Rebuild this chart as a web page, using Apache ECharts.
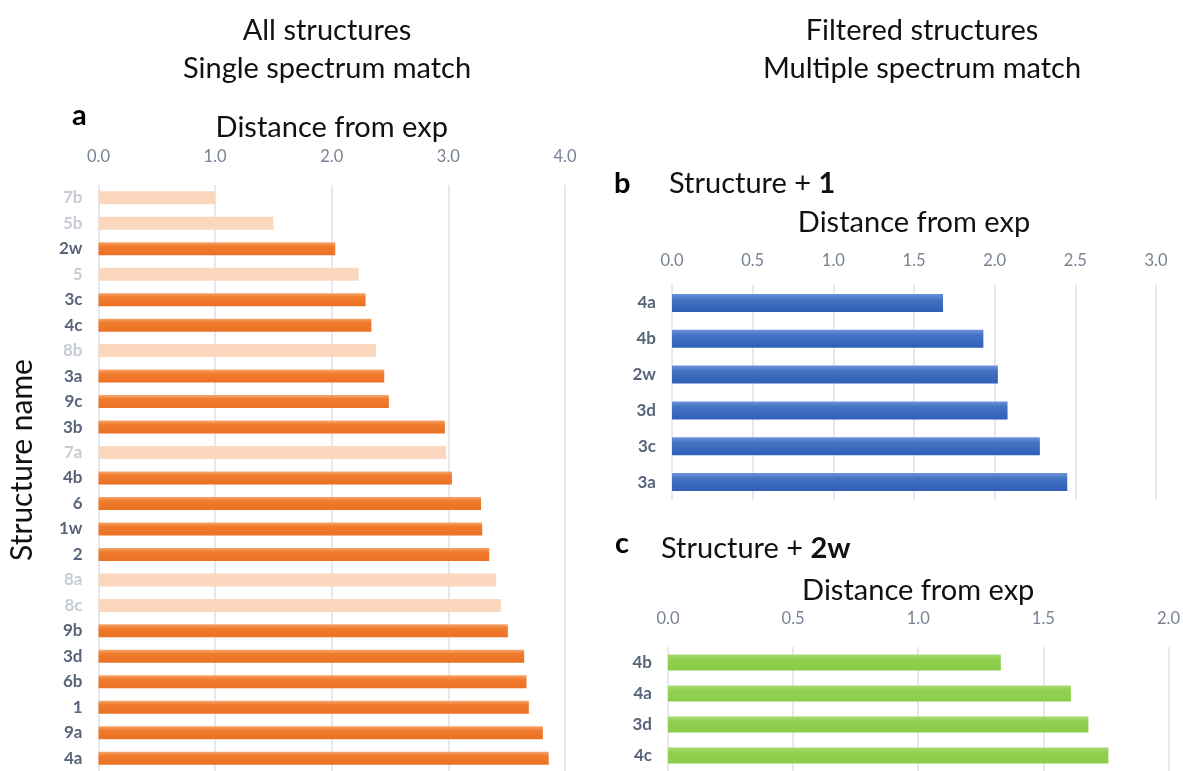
<!DOCTYPE html>
<html>
<head>
<meta charset="utf-8">
<script src="https://cdn.jsdelivr.net/npm/echarts@6/dist/echarts.min.js"></script>
<style>
  html, body { margin: 0; padding: 0; background: #ffffff; }
  #chart { width: 1183px; height: 771px; }
</style>
</head>
<body>
<div id="chart"></div>
<script>
// Panel a: all structures, single spectrum match
const structuresA = ['7b','5b','2w','5','3c','4c','8b','3a','9c','3b','7a','4b','6','1w','2','8a','8c','9b','3d','6b','1','9a','4a'];
const distanceA   = [1.00, 1.50, 2.03, 2.23, 2.29, 2.34, 2.38, 2.45, 2.49, 2.97, 2.98, 3.03, 3.28, 3.29, 3.35, 3.41, 3.45, 3.51, 3.65, 3.67, 3.69, 3.81, 3.86];
// structures shown faded (filtered out)
const fadedA = ['7b','5b','5','8b','7a','8a','8c'];
const ticksA = [0, 1, 2, 3, 4];

// Panel b: structure + 1
const structuresB = ['4a','4b','2w','3d','3c','3a'];
const distanceB   = [1.68, 1.93, 2.02, 2.08, 2.28, 2.45];
const ticksB = [0, 0.5, 1, 1.5, 2, 2.5, 3];

// Panel c: structure + 2w
const structuresC = ['4b','4a','3d','4c'];
const distanceC   = [1.33, 1.61, 1.68, 1.76];
const ticksC = [0, 0.5, 1, 1.5, 2];

const FONT = 'Lato, "Open Sans", sans-serif';
const BIG = 29;
const ORANGE = new echarts.graphic.LinearGradient(0, 0, 0, 1, [
  { offset: 0, color: '#f6a86f' }, { offset: 0.3, color: '#f07c2e' }, { offset: 1, color: '#eb7023' }
]);
const PEACH = '#fbd7be';
const BLUE = new echarts.graphic.LinearGradient(0, 0, 0, 1, [
  { offset: 0, color: '#6d94da' }, { offset: 0.3, color: '#4472c4' }, { offset: 1, color: '#2f5fb7' }
]);
const GREEN = new echarts.graphic.LinearGradient(0, 0, 0, 1, [
  { offset: 0, color: '#a6db72' }, { offset: 0.3, color: '#92d050' }, { offset: 1, color: '#8acb48' }
]);

function valueAxis(gridIndex, ticks, margin, nameGap) {
  return {
    gridIndex, type: 'value', position: 'top',
    min: ticks[0], max: ticks[ticks.length - 1], interval: ticks[1] - ticks[0],
    name: 'Distance from exp', nameLocation: 'middle', nameGap,
    nameTextStyle: { fontFamily: FONT, fontSize: BIG, color: '#111111' },
    axisLine: { show: false }, axisTick: { show: false },
    axisLabel: { margin, fontFamily: FONT, fontSize: 16.5, color: '#788295', formatter: v => v.toFixed(1) },
    splitLine: { show: true, lineStyle: { color: '#dde2ea', width: 1.5 } }
  };
}

function categoryAxis(gridIndex, cats, colorFn) {
  return {
    gridIndex, type: 'category', data: cats, inverse: true,
    axisLine: { show: false }, axisTick: { show: false },
    axisLabel: { margin: 16, fontFamily: FONT, fontSize: 17, fontWeight: 'bold', color: colorFn || '#58647a' }
  };
}

function heading(text, left, top, bold) {
  return { text, left, top, textStyle: { fontFamily: FONT, fontSize: BIG, fontWeight: bold ? 'bold' : 'normal', color: bold ? '#000000' : '#111111' } };
}

function structurePlus(label, left, top) {
  return {
    text: '{n|Structure + }{b|' + label + '}', left, top,
    textStyle: {
      fontWeight: 'normal',
      rich: {
        n: { fontFamily: FONT, fontSize: BIG, fontWeight: 'normal', color: '#111111' },
        b: { fontFamily: FONT, fontSize: BIG, fontWeight: 'bold', color: '#111111' }
      }
    }
  };
}

const chart = echarts.init(document.getElementById('chart'), null, { renderer: 'canvas' });

const option = {
  animation: false,
  backgroundColor: '#ffffff',
  title: [
    { text: 'All structures\nSingle spectrum match', left: 322, top: 7, textAlign: 'center',
      textStyle: { fontFamily: FONT, fontSize: BIG, fontWeight: 'normal', color: '#111111', lineHeight: 38 } },
    { text: 'Filtered structures\nMultiple spectrum match', left: 917, top: 7, textAlign: 'center',
      textStyle: { fontFamily: FONT, fontSize: BIG, fontWeight: 'normal', color: '#111111', lineHeight: 38 } },
    heading('a', 67, 96, true),
    heading('b', 609, 164, true),
    structurePlus('1', 664, 164),
    heading('c', 610, 524, true),
    structurePlus('2w', 656, 529)
  ],
  graphic: [
    { type: 'text', x: 22, y: 460, rotation: Math.PI / 2,
      style: { text: 'Structure name', fontFamily: FONT, fontSize: BIG + 1, fill: '#111111', textAlign: 'center', textVerticalAlign: 'middle' } }
  ],
  grid: [
    { left: 98.5, top: 185, width: 466.5, height: 591 },
    { left: 672, top: 285, width: 484, height: 215 },
    { left: 668, top: 647, width: 502, height: 129 }
  ],
  xAxis: [
    valueAxis(0, ticksA, 20, 43),
    valueAxis(1, ticksB, 16, 48),
    valueAxis(2, ticksC, 20, 42)
  ],
  yAxis: [
    categoryAxis(0, structuresA, (v) => fadedA.includes(v) ? '#c7ccd4' : '#58647a'),
    categoryAxis(1, structuresB),
    categoryAxis(2, structuresC)
  ],
  series: [
    {
      type: 'bar', xAxisIndex: 0, yAxisIndex: 0, barWidth: 13,
      data: structuresA.map((s, i) => ({
        value: distanceA[i],
        itemStyle: { color: fadedA.includes(s) ? PEACH : ORANGE }
      }))
    },
    { type: 'bar', xAxisIndex: 1, yAxisIndex: 1, barWidth: 18, itemStyle: { color: BLUE }, data: distanceB },
    { type: 'bar', xAxisIndex: 2, yAxisIndex: 2, barWidth: 16, itemStyle: { color: GREEN }, data: distanceC }
  ]
};

chart.setOption(option);
</script>
</body>
</html>
